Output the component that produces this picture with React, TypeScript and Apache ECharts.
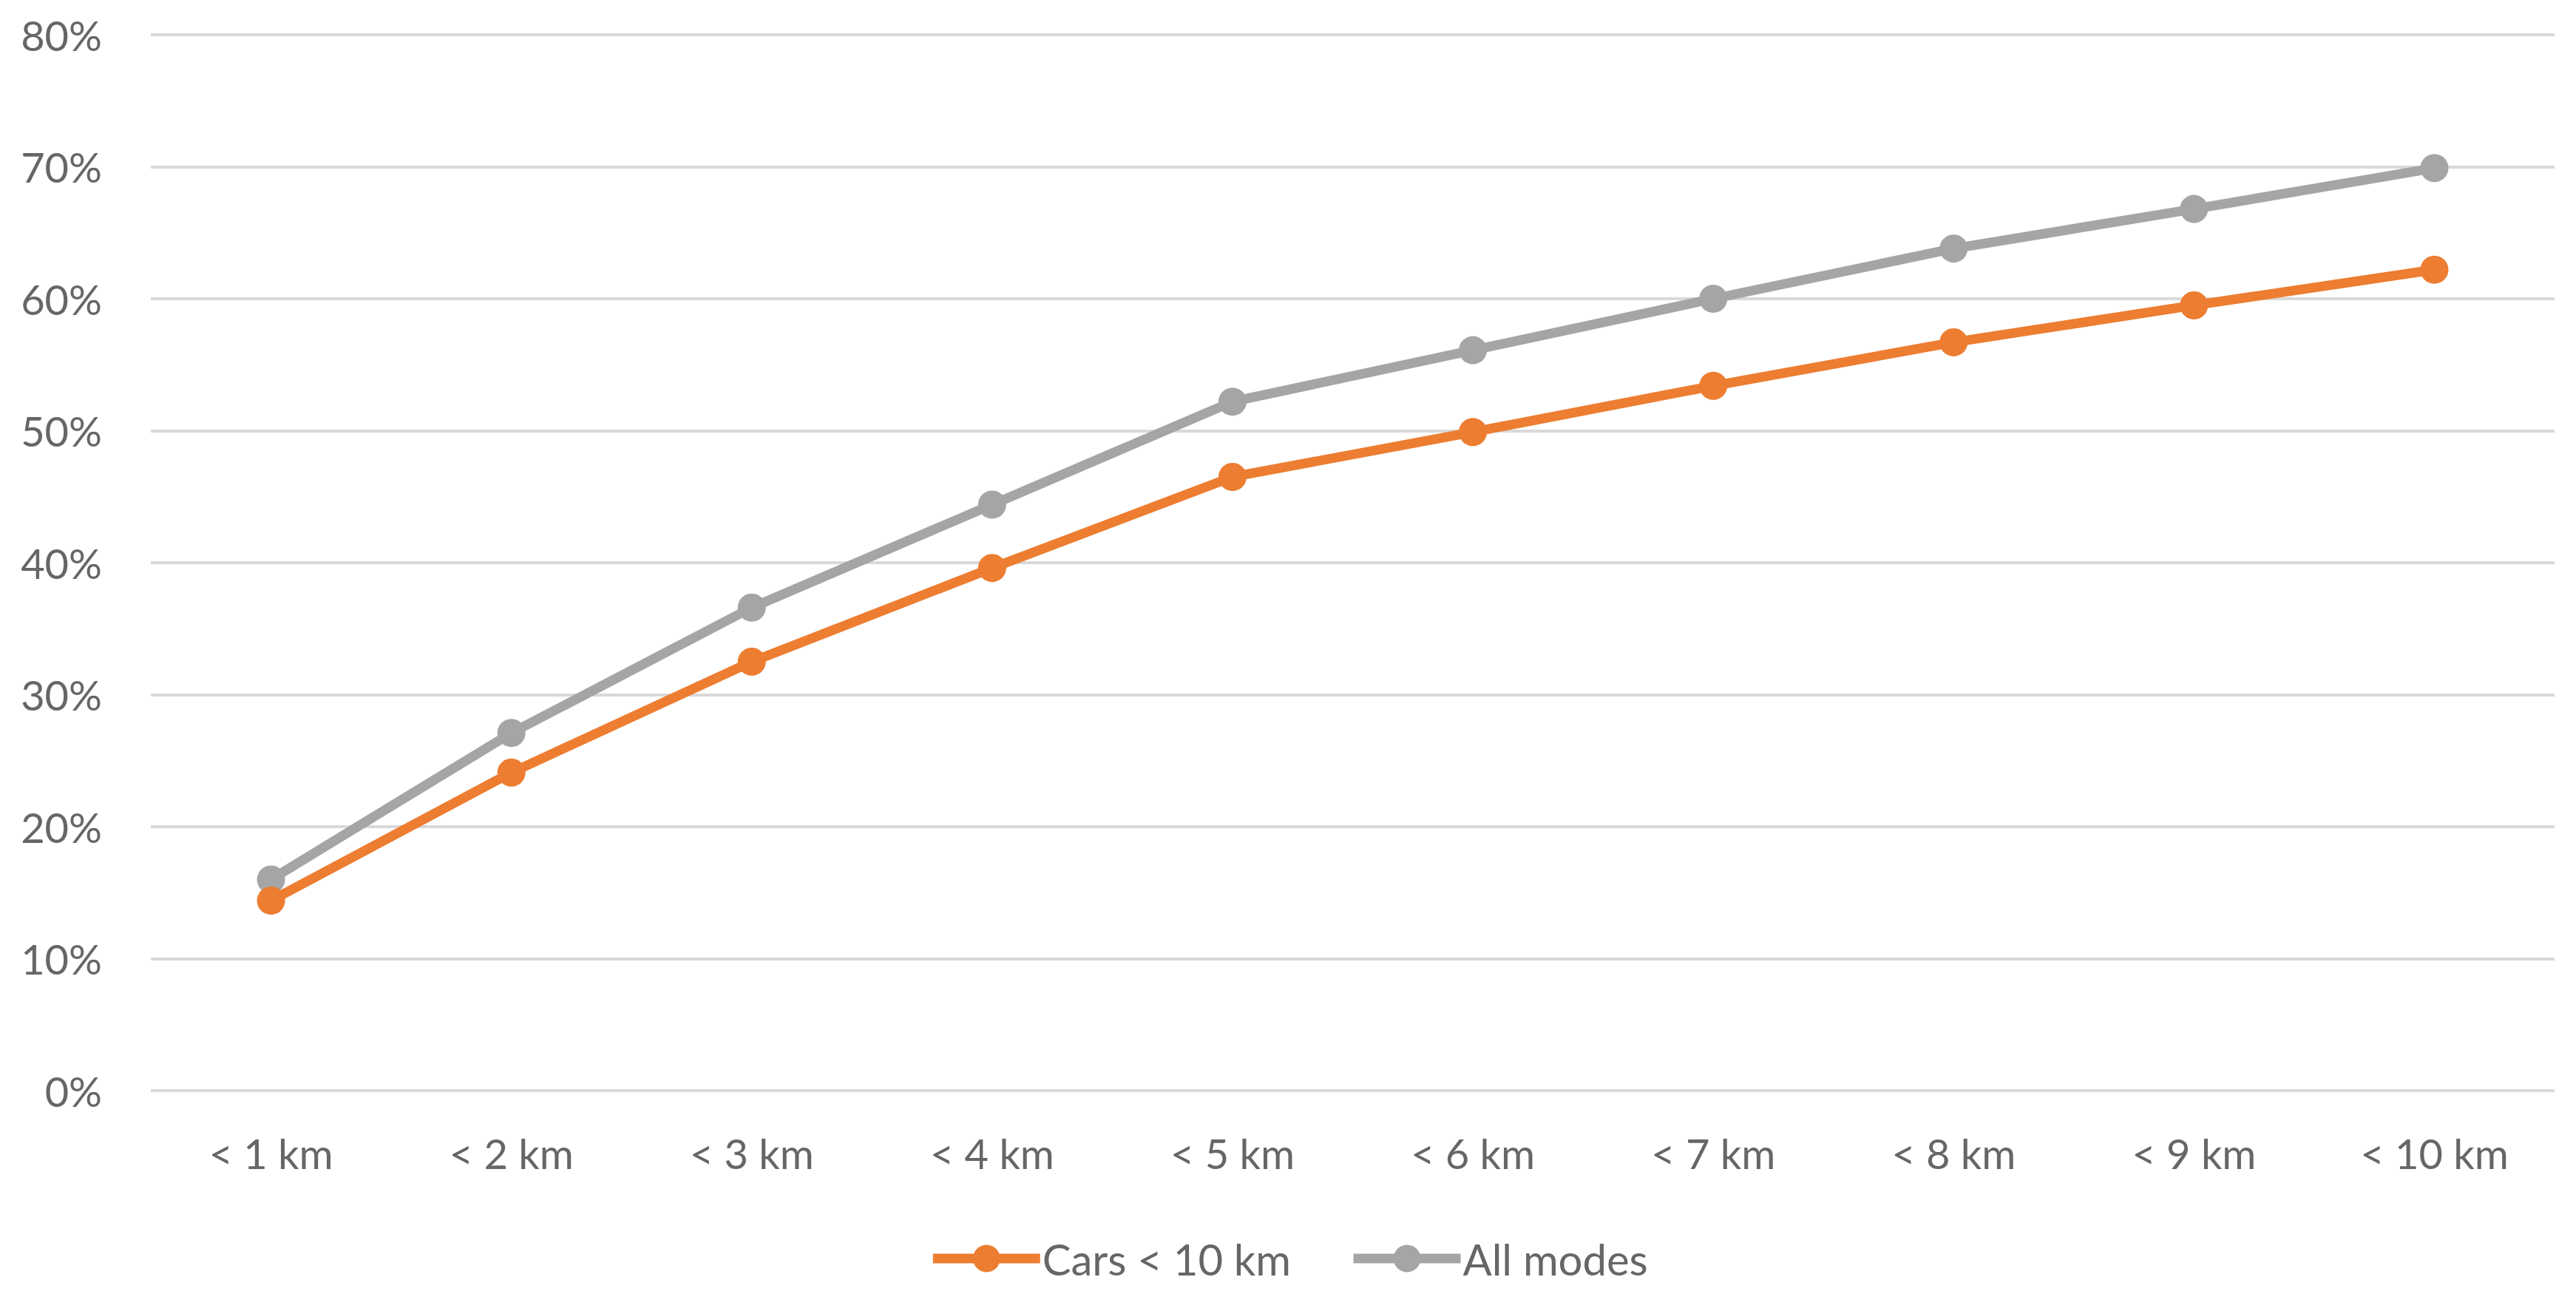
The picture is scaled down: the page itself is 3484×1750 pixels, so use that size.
import React, { useEffect, useRef } from "react";
import * as echarts from "echarts";

const categories = ["< 1 km", "< 2 km", "< 3 km", "< 4 km", "< 5 km", "< 6 km", "< 7 km", "< 8 km", "< 9 km", "< 10 km"];
const carsUnder10 = [14.4, 24.1, 32.5, 39.6, 46.5, 49.9, 53.4, 56.7, 59.5, 62.2];
const allModes = [16.0, 27.1, 36.6, 44.4, 52.2, 56.1, 60.0, 63.8, 66.8, 69.9];
const seriesNames = ["Cars < 10 km", "All modes"];

const FONT = "Lato, 'Open Sans', sans-serif";
const TEXT = "#666666";

export default function App() {
  const ref = useRef<HTMLDivElement>(null);
  useEffect(() => {
    if (!ref.current) return;
    const chart = echarts.init(ref.current, undefined, { renderer: "svg" });
    chart.setOption({
      animation: false,
      backgroundColor: "#ffffff",
      grid: { left: 204, right: 29, top: 47, bottom: 275, containLabel: false },
      legend: {
        bottom: 14,
        left: "center",
        itemWidth: 145,
        itemHeight: 46,
        itemGap: 78,
        lineStyle: { width: 13 },
        textStyle: { fontFamily: FONT, fontSize: 58, color: TEXT, padding: [0, 0, 0, -2] },
        data: seriesNames,
      },
      xAxis: {
        type: "category",
        data: categories,
        boundaryGap: true,
        axisLine: { show: false },
        axisTick: { show: false },
        axisLabel: { fontFamily: FONT, fontSize: 56, color: TEXT, margin: 56 },
      },
      yAxis: {
        type: "value",
        min: 0,
        max: 80,
        interval: 10,
        axisLine: { show: false },
        axisTick: { show: false },
        splitLine: { lineStyle: { color: "#d9d9d9", width: 4 } },
        axisLabel: { fontFamily: FONT, fontSize: 56, color: TEXT, margin: 66, formatter: "{value}%" },
      },
      series: [
        {
          name: seriesNames[0],
          type: "line",
          data: carsUnder10,
          symbol: "circle",
          symbolSize: 38,
          lineStyle: { color: "#ED7D31", width: 13 },
          itemStyle: { color: "#ED7D31" },
          z: 3,
        },
        {
          name: seriesNames[1],
          type: "line",
          data: allModes,
          symbol: "circle",
          symbolSize: 38,
          lineStyle: { color: "#A5A5A5", width: 13 },
          itemStyle: { color: "#A5A5A5" },
          z: 2,
        },
      ],
    });
    return () => chart.dispose();
  }, []);
  return (
    <div
      ref={ref}
      style={{ position: "absolute", left: 0, top: 0, width: 3484, height: 1750 }}
    />
  );
}
